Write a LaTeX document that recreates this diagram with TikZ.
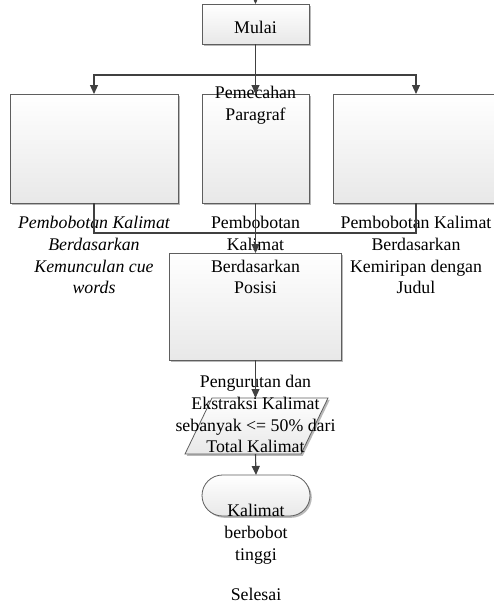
\documentclass[tikz,border=0pt]{standalone}
\usepackage{fontspec}
\setmainfont{Liberation Serif}
\usetikzlibrary{arrows.meta,shadows}
\definecolor{edgec}{HTML}{5E5E5E}
\definecolor{connc}{HTML}{404040}
\begin{document}
\begin{tikzpicture}[x=1pt,y=-1pt,
  box/.style={draw=edgec, line width=0.8pt, top color=white, bottom color=gray!18,
    drop shadow={shadow xshift=1.8pt, shadow yshift=-1.8pt, fill=gray!55, opacity=1},
    inner sep=0pt, outer sep=0pt},
  conn/.style={draw=connc, line width=1.1pt},
  arr/.style={conn, -{Triangle[length=9pt,width=8pt]}},
  lbl/.style={font=\fontsize{17.8}{21.8}\selectfont, align=center, inner sep=0pt, anchor=north},
  lbli/.style={lbl, font=\fontsize{17.8}{21.8}\selectfont\itshape}
]
\useasboundingbox (0,0) rectangle (494,605);
% boxes
\node[box, minimum width=107pt, minimum height=40pt] (mulai) at (255.5,24) {};
\node[box, minimum width=168pt, minimum height=109pt] (lbox) at (94,148.5) {};
\node[box, minimum width=107pt, minimum height=109pt] (mid) at (255.5,148.5) {};
\node[box, minimum width=166pt, minimum height=109pt] (rbox) at (416,148.5) {};
\node[box, minimum width=172pt, minimum height=107pt] (posisi) at (255.5,306.5) {};
% parallelogram (input/output)
\path[box] (185,454) -- (212,398) -- (328,398) -- (301,454) -- cycle;
\node[inner sep=0pt, outer sep=0pt, minimum width=116pt, minimum height=56pt] (pg) at (255.5,426) {};
\node[box, rounded corners=20.5pt, minimum width=108pt, minimum height=41pt] (term) at (256,495.5) {};
% labels
\node[lbl, anchor=base] (tmulai) at (255.5,33) {Mulai};
\node[lbl] (tpem) at (255.5,86) {Pemecahan\\Paragraf};
\node[lbli] (tcue) at (94,216) {Pembobotan Kalimat\\Berdasarkan\\Kemunculan cue\\words};
\node[lbl] (tpos) at (255.5,216) {Pembobotan\\Kalimat\\Berdasarkan\\Posisi};
\node[lbl] (tjud) at (416,216) {Pembobotan Kalimat\\Berdasarkan\\Kemiripan dengan\\Judul};
\node[lbl] (turut) at (255.5,375) {Pengurutan dan\\Ekstraksi Kalimat\\sebanyak <= 50\% dari\\Total Kalimat};
\node[lbl] (tkal) at (256,504) {Kalimat\\berbobot\\tinggi};
\node[lbl, anchor=base] (tsel) at (256,600.5) {Selesai};
% connectors
\coordinate (topin) at (255.5,-3);
\coordinate (split) at (255.5,75);
\coordinate (join) at (255.5,233);
\draw[arr] (topin) -- (mulai.north);
\draw[arr] (mulai.south) -- (mid.north);
\draw[arr] (split) -| (lbox.north);
\draw[arr] (split) -| (rbox.north);
\draw[conn] (lbox.south) |- (join) -| (rbox.south);
\draw[arr] (mid.south) -- (posisi.north);
\draw[arr] (posisi.south) -- (pg.north);
\draw[arr] (pg.south) -- (term.north);
\end{tikzpicture}
\end{document}
